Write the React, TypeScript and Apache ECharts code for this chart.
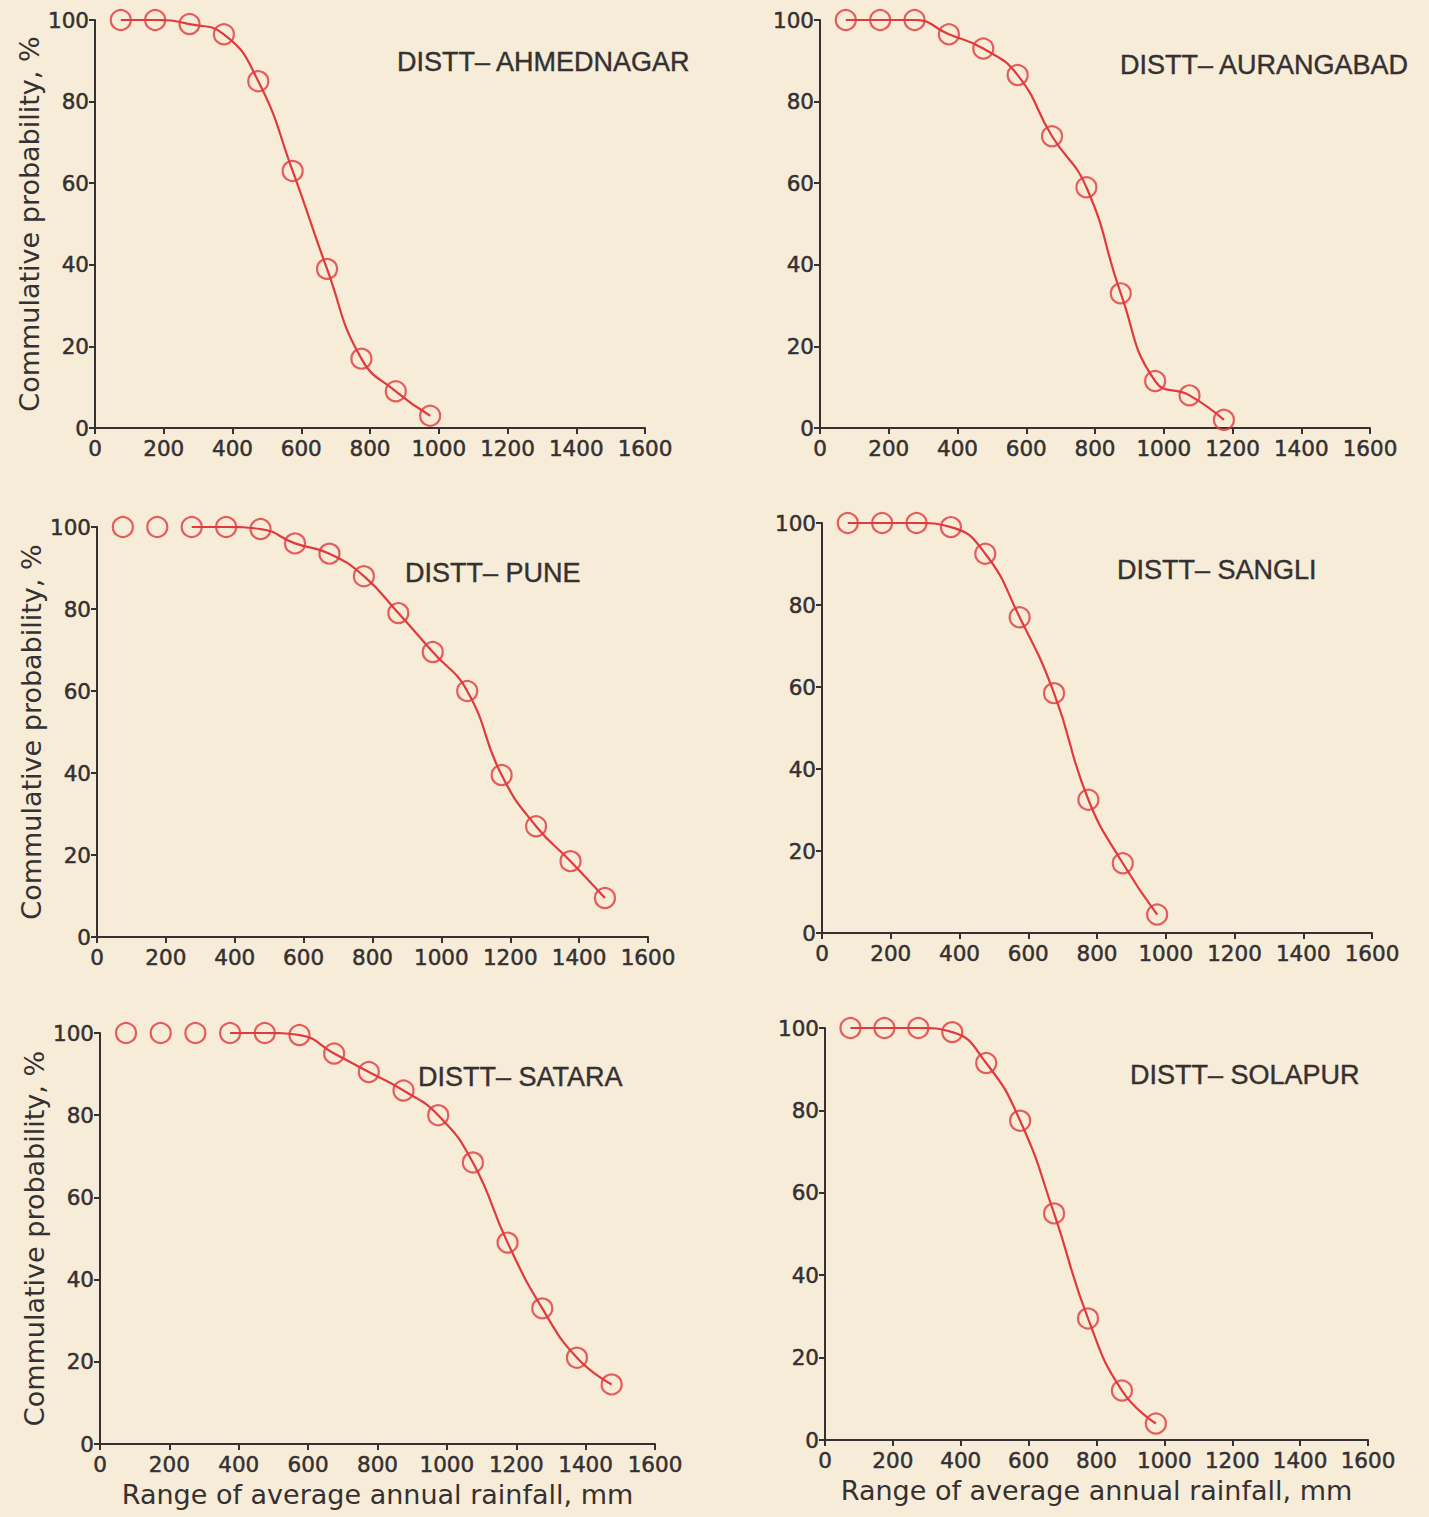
import React, { useEffect, useRef } from "react";
import * as echarts from "echarts";

// Class mid-points of average annual rainfall ranges (mm)
const rainfallMid = [75, 175, 275, 375, 475, 575, 675, 775, 875, 975, 1075, 1175, 1275, 1375, 1475];

// Cumulative probability (%)
const ahmednagar = [100, 100, 99, 96.5, 85, 63, 39, 17, 9, 3];
const aurangabad = [100, 100, 100, 96.5, 93, 86.5, 71.5, 59, 33, 11.5, 8, 2];
const pune = [100, 100, 100, 100, 99.5, 96, 93.5, 88, 79, 69.5, 60, 39.5, 27, 18.5, 9.5];
const sangli = [100, 100, 100, 99, 92.5, 77, 58.5, 32.5, 17, 4.5];
const satara = [100, 100, 100, 100, 100, 99.5, 95, 90.5, 86, 80, 68.5, 49, 33, 21, 14.5];
const solapur = [100, 100, 100, 99, 91.5, 77.5, 55, 29.5, 12, 4];

const xTicks = [0, 200, 400, 600, 800, 1000, 1200, 1400, 1600];
const yTicks = [0, 20, 40, 60, 80, 100];

const panelTitles = [
  "DISTT\u2013 AHMEDNAGAR",
  "DISTT\u2013 AURANGABAD",
  "DISTT\u2013 PUNE",
  "DISTT\u2013 SANGLI",
  "DISTT\u2013 SATARA",
  "DISTT\u2013 SOLAPUR",
];
const panelValues = [ahmednagar, aurangabad, pune, sangli, satara, solapur];

const yAxisTitle = "Commulative probability, %";
const xAxisTitle = "Range of average annual rainfall, mm";

// layout (pixels)
const grids = [
  { left: 95, top: 20, width: 550, height: 408 },
  { left: 820, top: 20, width: 550, height: 408 },
  { left: 97, top: 527, width: 551, height: 410 },
  { left: 822, top: 523, width: 550, height: 410 },
  { left: 100, top: 1033, width: 555, height: 411 },
  { left: 825, top: 1028, width: 543, height: 412 },
];
const titlePos = [
  { x: 397, y: 62 },
  { x: 1120, y: 65 },
  { x: 405, y: 573 },
  { x: 1117, y: 570 },
  { x: 418, y: 1077 },
  { x: 1130, y: 1075 },
];
const lineStart = [0, 0, 2, 0, 3, 0];

const RED = "#e03a3c";
const INK = "#353031";
const BG = "#f6ecd8";

export default function App() {
  const ref = useRef<HTMLDivElement>(null);
  useEffect(() => {
    document.body.style.margin = "0";
    document.body.style.background = BG;
    const chart = echarts.init(ref.current!, null, { renderer: "svg" });
    const fontFamily = "DejaVu Sans";
    const tickLabel = {
      fontFamily,
      fontSize: 21.5,
      color: INK,
      textBorderColor: INK,
      textBorderWidth: 0.5,
    };
    const xAxis: any[] = [];
    const yAxis: any[] = [];
    const series: any[] = [];
    panelValues.forEach((vals, i) => {
      const isLeft = i % 2 === 0;
      const isBottom = i >= 4;
      xAxis.push({
        gridIndex: i,
        type: "value",
        min: xTicks[0],
        max: xTicks[xTicks.length - 1],
        interval: xTicks[1] - xTicks[0],
        name: isBottom ? xAxisTitle : "",
        nameLocation: "middle",
        nameGap: 37,
        nameTextStyle: { fontFamily, fontSize: 27, color: INK },
        axisLine: { show: true, onZero: false, lineStyle: { color: INK, width: 2 } },
        axisTick: { show: true, inside: false, length: 6, lineStyle: { color: INK, width: 2 } },
        axisLabel: {
          ...tickLabel,
          margin: 9,
          interval: 0,
          formatter: (v: number) => String(v),
        },
        splitLine: { show: false },
      });
      yAxis.push({
        gridIndex: i,
        type: "value",
        min: yTicks[0],
        max: yTicks[yTicks.length - 1],
        interval: yTicks[1] - yTicks[0],
        name: isLeft ? yAxisTitle : "",
        nameLocation: "middle",
        nameRotate: 90,
        nameGap: 52,
        nameTextStyle: { fontFamily, fontSize: 27, color: INK },
        axisLine: { show: true, onZero: false, lineStyle: { color: INK, width: 2 } },
        axisTick: { show: true, inside: false, length: 6, lineStyle: { color: INK, width: 2 } },
        axisLabel: { ...tickLabel, margin: 6 },
        splitLine: { show: false },
      });
      const pts = vals.map((v, k) => [rainfallMid[k], v]);
      series.push({
        type: "line",
        xAxisIndex: i,
        yAxisIndex: i,
        data: pts.slice(lineStart[i]),
        smooth: 0.5,
        showSymbol: false,
        lineStyle: { color: RED, width: 2.2 },
        silent: true,
      });
      series.push({
        type: "scatter",
        xAxisIndex: i,
        yAxisIndex: i,
        data: pts,
        symbol: "circle",
        symbolSize: 20,
        itemStyle: { color: "rgba(0,0,0,0)", borderColor: RED, borderWidth: 2.2 },
        silent: true,
      });
    });
    const graphic = panelTitles.map((t, i) => ({
      type: "text",
      x: titlePos[i].x,
      y: titlePos[i].y,
      style: {
        text: t,
        font: `27px 'Liberation Sans', Arial, sans-serif`,
        fill: INK,
        stroke: INK,
        lineWidth: 0.4,
        textAlign: "left",
        textVerticalAlign: "middle",
      },
    }));
    chart.setOption({
      animation: false,
      backgroundColor: BG,
      grid: grids.map((g) => ({ ...g, containLabel: false })),
      xAxis,
      yAxis,
      series,
      graphic,
    });
    return () => chart.dispose();
  }, []);
  return <div ref={ref} style={{ width: 1429, height: 1517 }} />;
}
